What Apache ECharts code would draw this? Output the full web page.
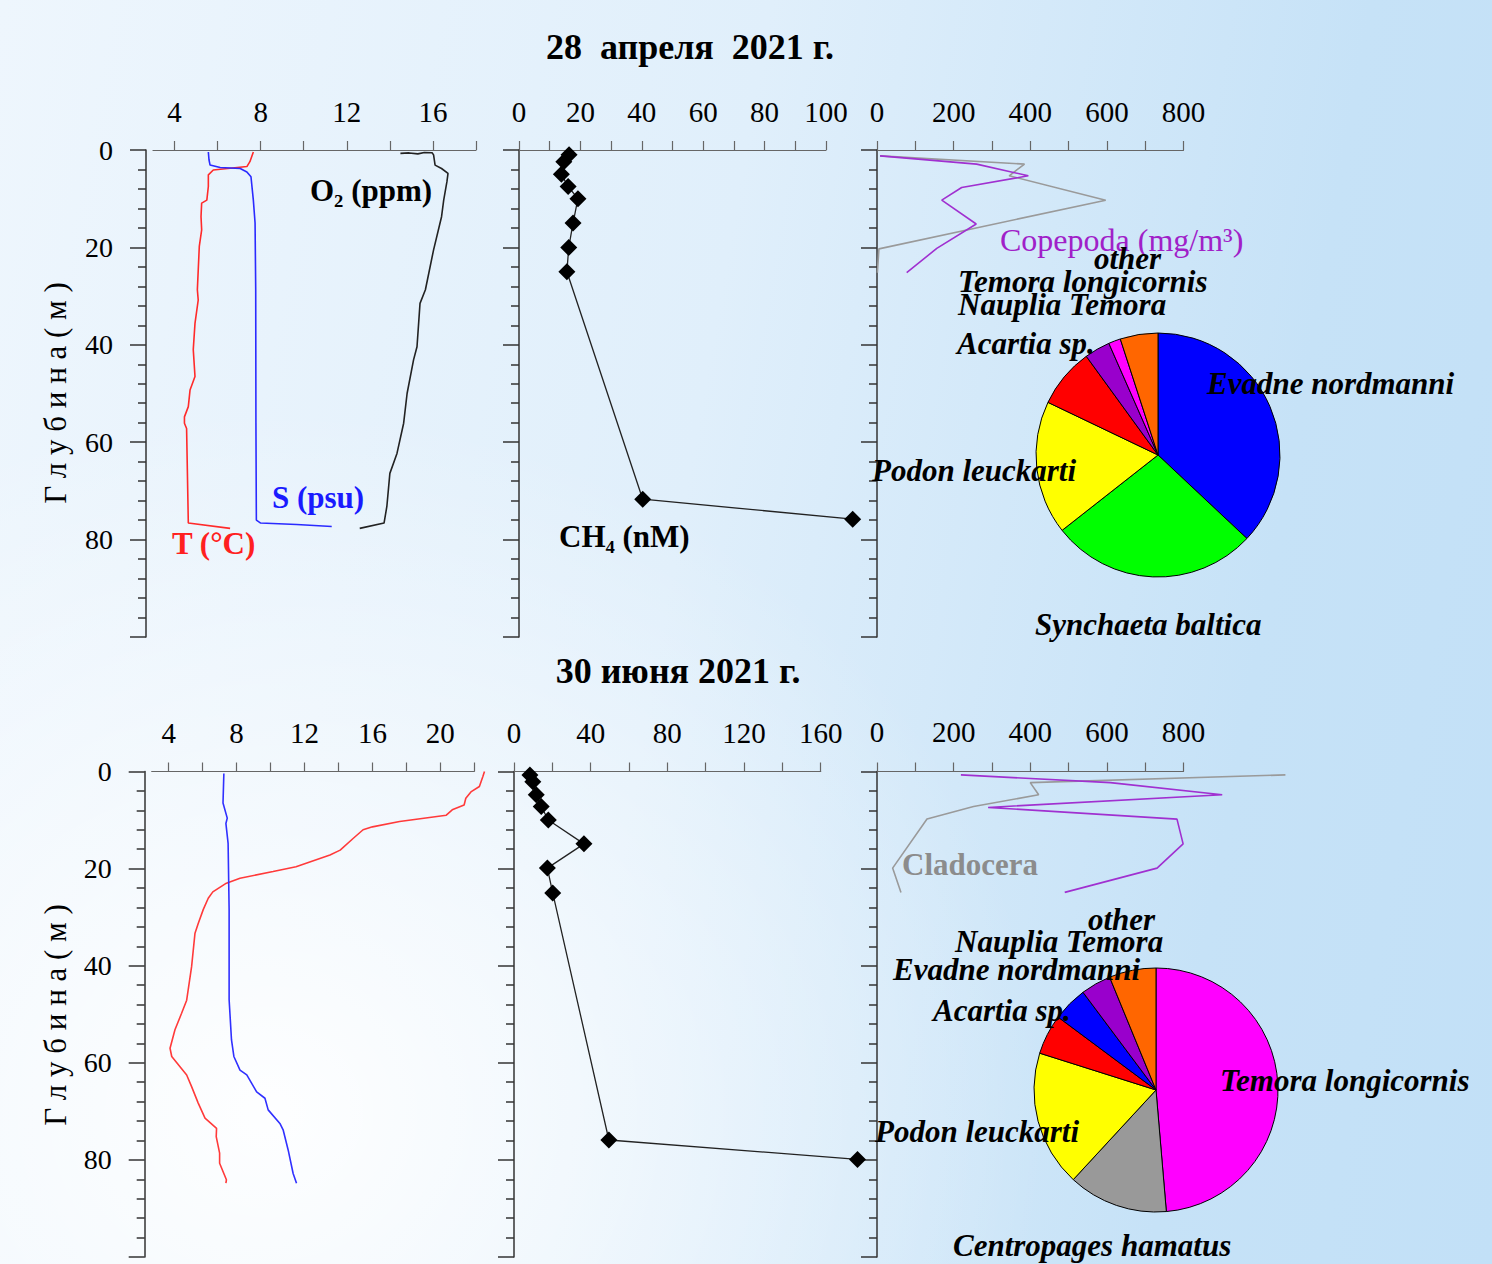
<!DOCTYPE html>
<html>
<head>
<meta charset="utf-8">
<script src="https://cdn.jsdelivr.net/npm/echarts@6/dist/echarts.min.js"></script>
<style>
  html, body { margin: 0; padding: 0; }
  body {
    width: 1492px; height: 1264px; overflow: hidden;
    background:
      radial-gradient(ellipse at 18% 88%, rgba(255,255,255,0.95) 0%, rgba(255,255,255,0) 45%),
      linear-gradient(100deg, #eef6fd 0%, #e0effb 45%, #c6e2f7 80%, #c2e0f7 100%);
  }
  #chart { width: 1492px; height: 1264px; }
</style>
</head>
<body>
<div id="chart"></div>
<script>
  // --- 28 April 2021: [value, depth m]
  var aprT = [[7.66,0.4],[7.5,2.4],[7.36,3.4],[5.8,4.1],[5.57,5.1],[5.57,7.5],[5.5,10.3],[5.26,10.9],[5.23,13.7],[5.26,16.4],[5.15,19.8],[5.06,28.7],[5.1,30.8],[4.95,35.6],[4.87,41],[4.95,46.5],[4.72,49.3],[4.64,52.7],[4.46,54.8],[4.46,56.1],[4.56,57.2],[4.64,76.6],[6.58,77.7]];
  var aprS = [[5.57,0.4],[5.6,2.0],[5.65,3.1],[6.12,3.6],[7.05,3.8],[7.36,4.5],[7.55,5.5],[7.66,10.3],[7.74,15],[7.77,28.7],[7.78,56],[7.8,76],[8.0,76.6],[9.67,76.9],[11.3,77.3]];
  var aprO2 = [[14.49,0.7],[14.9,0.6],[15.3,0.8],[15.6,0.5],[15.96,0.55],[16.03,1],[16.1,3.1],[16.4,3.8],[16.7,4.8],[16.65,6.5],[16.5,10.3],[16.4,13.7],[16.03,20.5],[15.65,28.7],[15.4,31.5],[15.26,40.4],[15.1,43.1],[14.8,50],[14.64,56.1],[14.33,62.3],[14.0,66.4],[13.86,73.2],[13.73,76.6],[12.6,77.7]];
  var aprCH4 = [[16.3,1.0],[14.6,2.4],[13.8,5],[16,7.5],[19.2,10],[17.6,15],[16.2,20],[15.6,25],[40.3,71.7],[108.7,75.8]];
  var aprClado = [[8,1.2],[385,2.9],[345,5.3],[597,10.3],[5,20.3],[1,25.2]];
  var aprCope = [[8,1.2],[260,2.9],[395,5.3],[221,7.7],[169,10.3],[259,15.2],[156,20.2],[77.5,25.2]];

  // --- 30 June 2021
  var junT = [[22.6,0],[22.5,1.1],[22.3,3.1],[21.8,4.2],[21.5,5.5],[21.4,6.9],[20.7,7.9],[20.35,9],[17.6,10.3],[16.0,11.4],[15.45,12],[14.86,13.8],[14.1,16.2],[13.5,17.2],[11.5,19.6],[10.15,20.6],[8.2,22],[7.4,23],[6.6,24.8],[6.33,26.1],[6.04,28.4],[5.74,31.3],[5.55,33.3],[5.35,40.2],[5.06,47.1],[4.76,49.8],[4.37,53.2],[4.08,57],[4.18,58.7],[5.06,62.5],[5.35,64.9],[5.74,68.3],[6.14,71.4],[6.82,73.5],[6.8,75.2],[7.0,78.6],[7.0,80.7],[7.4,84.1],[7.37,84.8]];
  var junS = [[7.25,0.4],[7.2,6.5],[7.45,9.6],[7.37,10.7],[7.5,14.8],[7.56,28.5],[7.56,47],[7.7,55.3],[7.84,58.7],[8.2,61.5],[8.6,62.5],[9.18,66],[9.67,67.3],[9.86,69.7],[10.55,72.5],[10.74,73.8],[11.04,78],[11.33,82.8],[11.53,84.8]];
  var junCH4 = [[8.3,0.7],[9.8,2.1],[11.6,4.8],[14.2,7.2],[17.9,10],[36.5,14.9],[17.4,19.9],[20.2,25],[49.5,75.9],[179.2,79.9]];
  var junClado = [[1066,0.7],[400,2.3],[422,4.8],[252,7.2],[130.5,9.8],[40.8,19.9],[62.6,24.9]];
  var junCope = [[219,0.7],[609,2.3],[901,4.8],[290,7.4],[783,9.8],[799,14.9],[731,19.9],[490,24.9]];

  // pie shares, %
  var aprPieNames = ['Evadne nordmanni', 'Synchaeta baltica', 'Podon leuckarti', 'Acartia sp.', 'Nauplia Temora', 'Temora longicornis', 'other'];
  var aprPieValues = [37, 27.4, 17.7, 7.9, 3.4, 1.6, 5.0];
  var junPieNames = ['Temora longicornis', 'Centropages hamatus', 'Podon leuckarti', 'Acartia sp.', 'Evadne nordmanni', 'Nauplia Temora', 'other'];
  var junPieValues = [48.6, 13.2, 18, 5.3, 4.6, 4.0, 6.2];

  // tick values
  var aprTempTicks = [4, 6, 8, 10, 12, 14, 16, 18];
  var aprTempLabels = [4, 8, 12, 16];
  var aprCH4Ticks = [0, 10, 20, 30, 40, 50, 60, 70, 80, 90, 100];
  var aprCH4Labels = [0, 20, 40, 60, 80, 100];
  var zooTicks = [0, 100, 200, 300, 400, 500, 600, 700, 800];
  var zooLabels = [0, 200, 400, 600, 800];
  var junTempTicks = [4, 6, 8, 10, 12, 14, 16, 18, 20, 22];
  var junTempLabels = [4, 8, 12, 16, 20];
  var junCH4Ticks = [0, 20, 40, 60, 80, 100, 120, 140, 160];
  var junCH4Labels = [0, 40, 80, 120, 160];

  var colorsByName = {
    'Evadne nordmanni': '#0000ff',
    'Synchaeta baltica': '#00ff00',
    'Podon leuckarti': '#ffff00',
    'Acartia sp.': '#ff0000',
    'Nauplia Temora': '#9900cc',
    'Temora longicornis': '#ff00ff',
    'Centropages hamatus': '#999999',
    'other': '#ff6600'
  };

  var SERIF = "'Liberation Serif', 'Times New Roman', serif";

  var chart = echarts.init(document.getElementById('chart'), null, { renderer: 'svg' });

  // visible panels: frame + axis range
  var panels = [
    { left: 153, top: 150, width: 323, height: 487, min: 3, max: 18, ticks: aprTempTicks, labels: aprTempLabels, xOff: 8, yOff: 7, yLab: true },
    { left: 519, top: 150, width: 307, height: 487, min: 0, max: 100, ticks: aprCH4Ticks, labels: aprCH4Labels, xOff: 8, yOff: 7, yLab: false },
    { left: 877, top: 150, width: 306.5, height: 487, min: 0, max: 800, ticks: zooTicks, labels: zooLabels, xOff: 8, yOff: 10, yLab: false },
    { left: 151.7, top: 771.5, width: 322.6, height: 485.5, min: 3, max: 22, ticks: junTempTicks, labels: junTempLabels, xOff: 8.5, yOff: 7, yLab: true },
    { left: 514, top: 771.5, width: 306.7, height: 485.5, min: 0, max: 160, ticks: junCH4Ticks, labels: junCH4Labels, xOff: 8.5, yOff: 8, yLab: false },
    { left: 877, top: 771.5, width: 306.5, height: 485.5, min: 0, max: 800, ticks: zooTicks, labels: zooLabels, xOff: 9.5, yOff: 10, yLab: false }
  ];
  // wider data range per panel so profiles that run past the axis end are not cut
  var extMax = [24, 120, 1200, 24, 200, 1200];

  var grids = [], xAxes = [], yAxes = [];
  panels.forEach(function (p, i) {
    grids.push({ left: p.left, top: p.top, width: p.width, height: p.height });
    xAxes.push({
      type: 'value', gridIndex: i, position: 'top', min: p.min, max: p.max, offset: p.xOff,
      axisLine: { show: true, lineStyle: { color: '#666', width: 1.2 } },
      axisTick: { show: true, length: 9, customValues: p.ticks, lineStyle: { color: '#666', width: 1.2 } },
      axisLabel: { customValues: p.labels, margin: 16, color: '#000', fontSize: 29, fontFamily: SERIF },
      splitLine: { show: false }
    });
    yAxes.push({
      type: 'value', gridIndex: i, inverse: true, min: 0, max: 100, interval: 20, offset: p.yOff,
      axisLine: { show: true, lineStyle: { color: '#333', width: 1.5 } },
      axisTick: { show: true, length: 16, lineStyle: { color: '#333', width: 1.5 } },
      minorTick: { show: true, splitNumber: 5, length: 8, lineStyle: { color: '#333', width: 1.5 } },
      axisLabel: { show: p.yLab, showMaxLabel: false, margin: 33, color: '#000', fontSize: 28, fontFamily: SERIF },
      splitLine: { show: false }
    });
  });
  // hidden data grids, same scale as the panel but stretched to extMax
  panels.forEach(function (p, i) {
    var w = p.width * (extMax[i] - p.min) / (p.max - p.min);
    grids.push({ left: p.left, top: p.top, width: w, height: p.height });
    xAxes.push({ type: 'value', gridIndex: 6 + i, position: 'top', min: p.min, max: extMax[i], show: false, splitLine: { show: false } });
    yAxes.push({ type: 'value', gridIndex: 6 + i, inverse: true, min: 0, max: 100, show: false, splitLine: { show: false } });
  });

  function profile(pi, data, color, w) {
    return {
      type: 'line', xAxisIndex: 6 + pi, yAxisIndex: 6 + pi, data: data, showSymbol: false, symbol: 'none',
      lineStyle: { color: color, width: w || 1.6 }, silent: true
    };
  }
  function methane(pi, data) {
    return {
      type: 'line', xAxisIndex: 6 + pi, yAxisIndex: 6 + pi, data: data,
      symbol: 'diamond', symbolSize: 17, showSymbol: true,
      itemStyle: { color: '#000' }, lineStyle: { color: '#222', width: 1.3 }, silent: true
    };
  }
  function pie(center, radius, names, values) {
    return {
      type: 'pie', center: center, radius: radius, startAngle: 90, clockwise: true, silent: true,
      label: { show: false }, labelLine: { show: false },
      itemStyle: { borderColor: '#000', borderWidth: 1 },
      data: names.map(function (n, i) {
        return { name: n, value: values[i], itemStyle: { color: colorsByName[n] } };
      })
    };
  }

  function txt(x, y, text, opts) {
    opts = opts || {};
    return {
      type: 'text', x: x, y: y, z: 100, rotation: opts.rotation || 0,
      style: {
        text: text, fill: opts.color || '#000',
        fontSize: opts.size || 28, fontWeight: opts.weight || 'bold',
        fontStyle: opts.style || 'normal', fontFamily: SERIF,
        textAlign: opts.align || 'left', textVerticalAlign: 'middle'
      }
    };
  }
  function sp(x, y, text) { return txt(x, y, text, { style: 'italic', size: 31 }); }

  var graphics = [
    txt(690, 47, '28  апреля  2021 г.', { align: 'center', size: 36 }),
    txt(678, 671, '30 июня 2021 г.', { align: 'center', size: 36 }),
    txt(55, 393, 'Г л у б и н а ( м )', { align: 'center', size: 31, weight: 'normal', rotation: Math.PI / 2 }),
    txt(55, 1015, 'Г л у б и н а ( м )', { align: 'center', size: 31, weight: 'normal', rotation: Math.PI / 2 }),
    txt(310, 190, 'O₂ (ppm)', { size: 31 }),
    txt(272, 497, 'S (psu)', { size: 31, color: '#1a1aff' }),
    txt(172, 543, 'T (°C)', { size: 31, color: '#ff2020' }),
    txt(559, 536, 'CH₄ (nM)', { size: 31 }),
    txt(1000, 240, 'Copepoda (mg/m³)', { size: 32, weight: 'normal', color: '#a020c8' }),
    txt(902, 864, 'Cladocera', { size: 31, color: '#8c8c8c' }),
    sp(1094, 258, 'other'),
    sp(958, 281, 'Temora longicornis'),
    sp(958, 304, 'Nauplia Temora'),
    sp(957, 343, 'Acartia sp.'),
    sp(1207, 383, 'Evadne nordmanni'),
    sp(872, 470, 'Podon leuckarti'),
    sp(1035, 624, 'Synchaeta baltica'),
    sp(1088, 919, 'other'),
    sp(955, 941, 'Nauplia Temora'),
    sp(893, 969, 'Evadne nordmanni'),
    sp(933, 1010, 'Acartia sp.'),
    sp(1220, 1080, 'Temora longicornis'),
    sp(875, 1131, 'Podon leuckarti'),
    sp(953, 1245, 'Centropages hamatus')
  ];

  chart.setOption({
    animation: false,
    backgroundColor: 'transparent',
    grid: grids,
    xAxis: xAxes,
    yAxis: yAxes,
    series: [
      profile(0, aprT, '#ff2a2a'),
      profile(0, aprS, '#2a2aff'),
      profile(0, aprO2, '#222'),
      methane(1, aprCH4),
      profile(2, aprClado, '#9a9a9a'),
      profile(2, aprCope, '#a030d0'),
      profile(3, junT, '#ff3a3a'),
      profile(3, junS, '#3030ff'),
      methane(4, junCH4),
      profile(5, junClado, '#9a9a9a'),
      profile(5, junCope, '#a030d0'),
      pie([1158, 455], 122, aprPieNames, aprPieValues),
      pie([1156, 1090], 122, junPieNames, junPieValues)
    ],
    graphic: graphics
  });
</script>
</body>
</html>
